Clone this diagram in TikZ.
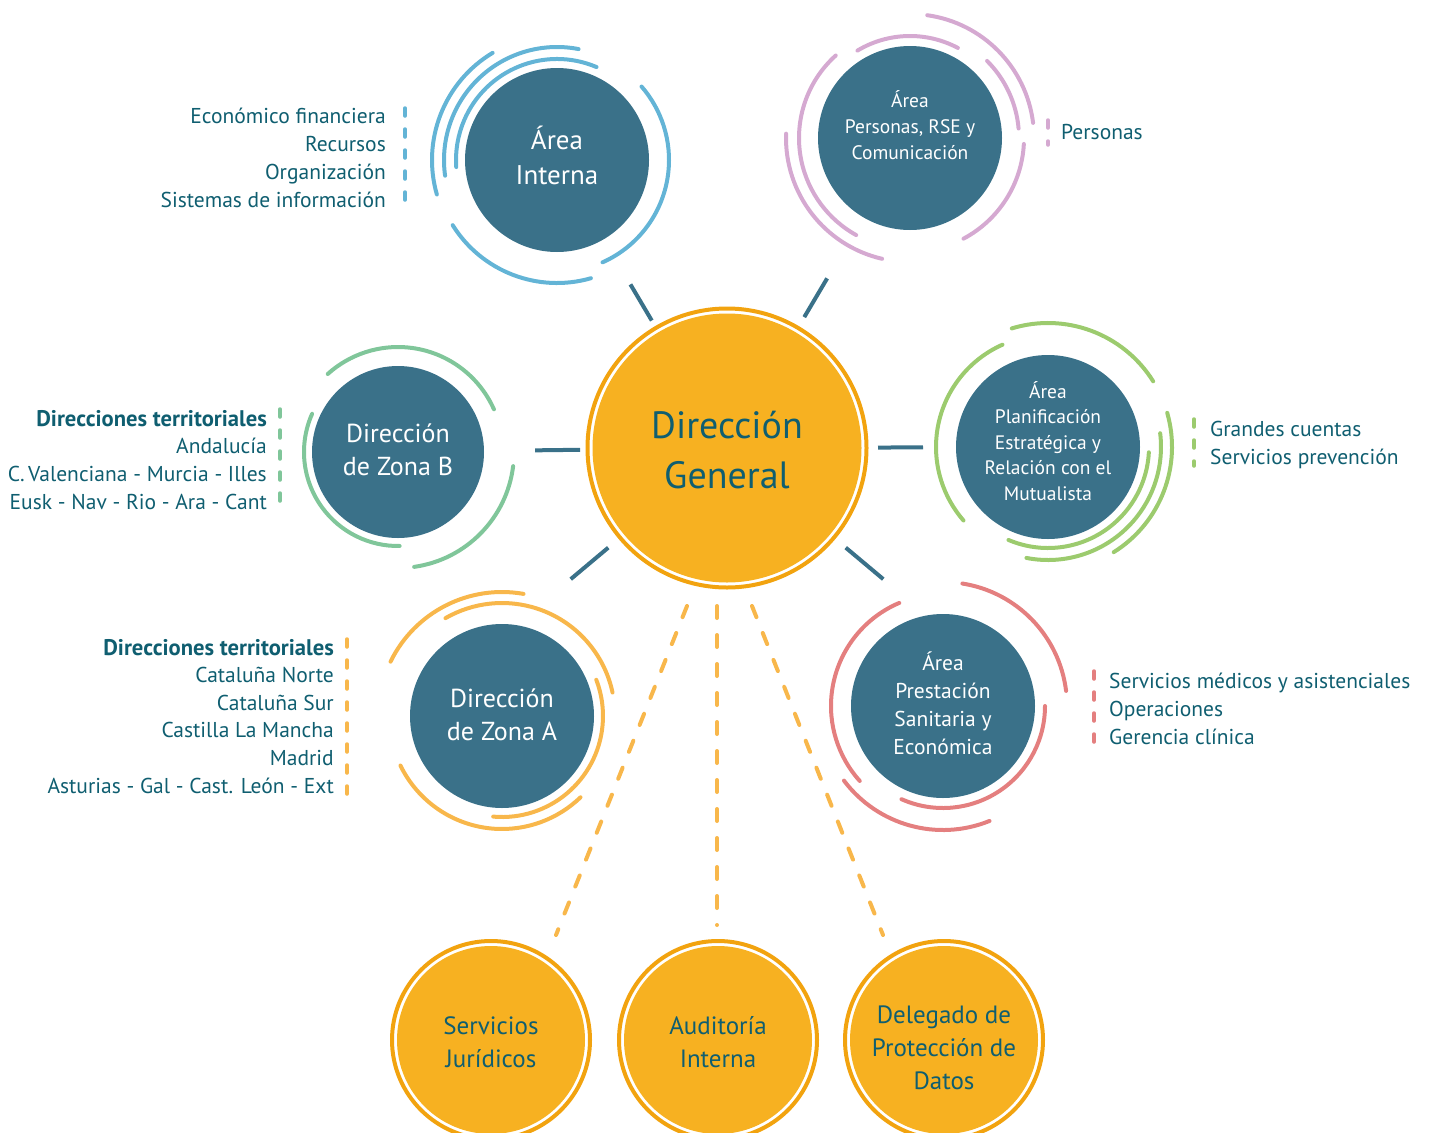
\documentclass[tikz,border=0pt]{standalone}
\usepackage{fontspec}
\setmainfont{PT Sans}
\usetikzlibrary{calc}
\definecolor{circC}{HTML}{3A7189}
\definecolor{txtC}{HTML}{0F5E70}
\definecolor{dgFill}{HTML}{F7B121}
\definecolor{dgRing}{HTML}{F2A30F}
\definecolor{blueA}{HTML}{63B4D6}
\definecolor{pinkA}{HTML}{D5A9D1}
\definecolor{lgreenA}{HTML}{9CCB6E}
\definecolor{mgreenA}{HTML}{80C69A}
\definecolor{orangeA}{HTML}{F8B74B}
\definecolor{redA}{HTML}{E47F7F}
\newcommand\rarc[5]{\draw[arcline,#1] ($(#2)+(#4:#3pt)$) arc[start angle=#4,end angle=#5,radius=#3pt];}
\begin{document}
\begin{tikzpicture}[x=1pt,y=1pt,
  circ/.style={circle,fill=circC,inner sep=0pt,minimum size=#1},
  ycirc/.style={circle,fill=dgFill,inner sep=0pt,minimum size=#1},
  wtxt/.style={text=white,align=center,inner sep=0pt},
  ytxt/.style={text=txtC,align=center,inner sep=0pt},
  side/.style={text=txtC,inner sep=0pt,font=\fontsize{21.5}{28}\selectfont},
  sidebold/.style={text=txtC,inner sep=0pt,font=\fontsize{22.6}{28}\selectfont\bfseries},
  conn/.style={draw=circC,line width=4pt},
  dline/.style={draw=orangeA,line width=4pt,line cap=round,dash pattern=on 12pt off 17pt},
  bar/.style={line width=3.5pt,line cap=round,dash pattern=on 8pt off 13pt},
  arcline/.style={line width=4pt,line cap=round},
  ring/.style={draw=dgRing,line width=4pt}]
\useasboundingbox (0,0) rectangle (1433,-1133);

% ---------- central node ----------
\node[ycirc=269pt] (dg) at (727,-448) {};
\draw[ring] (dg.center) circle[radius=139.5pt];
\node[ytxt,font=\fontsize{38}{50}\selectfont] (dgt) at (727,-450) {Dirección\\General};

% ---------- teal circles ----------
\node[circ=184pt] (ai) at (557,-160) {};
\node[wtxt,font=\fontsize{27}{35}\selectfont] (ait) at (557,-155) {Área\\Interna};

\node[circ=184pt] (ap) at (910,-138) {};
\node[wtxt,font=\fontsize{19.5}{26}\selectfont] (apt) at (910,-125) {Área\\Personas, RSE y\\Comunicación};

\node[circ=184pt] (apl) at (1048,-447) {};
\node[wtxt,font=\fontsize{19.5}{25.5}\selectfont] (aplt) at (1048,-441) {Área\\Planificación\\Estratégica y\\Relación con el\\Mutualista};

\node[circ=172pt] (zb) at (398,-452) {};
\node[wtxt,font=\fontsize{26}{33}\selectfont] (zbt) at (398,-450) {Dirección\\de Zona B};

\node[circ=184pt] (za) at (502,-716) {};
\node[wtxt,font=\fontsize{26}{33}\selectfont] (zat) at (502,-715) {Dirección\\de Zona A};

\node[circ=184pt] (pr) at (943,-706) {};
\node[wtxt,font=\fontsize{21.5}{28}\selectfont] (prt) at (943,-703) {Área\\Prestación\\Sanitaria y\\Económica};

% ---------- bottom yellow circles ----------
\foreach \n/\x in {sj/491,au/718,dp/944}{
  \node[ycirc=188pt] (\n) at (\x,-1040) {};
  \draw[ring] (\n.center) circle[radius=99pt];
}
\node[ytxt,font=\fontsize{25}{33}\selectfont] (sjt) at (491,-1042) {Servicios\\Jurídicos};
\node[ytxt,font=\fontsize{25}{33}\selectfont] (aut) at (718,-1042) {Auditoría\\Interna};
\node[ytxt,font=\fontsize{25}{33}\selectfont] (dpt) at (944,-1048) {Delegado de\\Protección de\\Datos};

% ---------- arcs ----------
\rarc{blueA}{ai}{125}{121}{196}
\rarc{blueA}{ai}{113}{79}{188}
\rarc{blueA}{ai}{101}{67}{184}
\rarc{blueA}{ai}{112}{-66}{41}
\rarc{blueA}{ai}{123}{212}{286}

\rarc{pinkA}{ap}{124}{7}{82}
\rarc{pinkA}{ap}{102}{62}{121}
\rarc{pinkA}{ap}{109}{5}{45}
\rarc{pinkA}{ap}{111}{132}{241}
\rarc{pinkA}{ap}{124}{178}{257}
\rarc{pinkA}{ap}{114}{-62}{-3}

\rarc{lgreenA}{apl}{124}{32}{107}
\rarc{lgreenA}{apl}{112}{114}{221}
\rarc{lgreenA}{apl}{124}{-58}{16}
\rarc{lgreenA}{apl}{113}{-101}{7}
\rarc{lgreenA}{apl}{101}{-113}{-3}

\rarc{mgreenA}{zb}{105}{24}{132}
\rarc{mgreenA}{zb}{94}{156}{271}
\rarc{mgreenA}{zb}{116}{-82}{-7}

\rarc{orangeA}{za}{124}{80}{154}
\rarc{orangeA}{za}{113}{12}{120}
\rarc{orangeA}{za}{101}{-95}{21}
\rarc{orangeA}{za}{113}{206}{314}

\rarc{redA}{pr}{124}{7}{81}
\rarc{redA}{pr}{112}{113}{222}
\rarc{redA}{pr}{102}{-114}{0}
\rarc{redA}{pr}{124}{217}{292}

% ---------- connectors ----------
\draw[conn] ($(dg.center)!148pt!(ai.center)$) -- ($(dg.center)!190pt!(ai.center)$);
\draw[conn] ($(dg.center)!152pt!(ap.center)$) -- ($(dg.center)!197pt!(ap.center)$);
\draw[conn] ($(dg.center)!147pt!(zb.center)$) -- ($(dg.center)!192pt!(zb.center)$);
\draw[conn] ($(dg.center)!151pt!(apl.center)$) -- ($(dg.center)!196pt!(apl.center)$);
\draw[conn] ($(dg.center)+(-140:155pt)$) -- ($(dg.center)+(-140:204pt)$);
\draw[conn] ($(dg.center)+(-40:155pt)$) -- ($(dg.center)+(-40:204pt)$);

\draw[dline] ($(dg.center)+(-40,-158)$) -- ($(sj.center)+(65,105)$);
\draw[dline] ($(dg.center)+(-10,-158)$) -- ($(au.center)+(-1,115)$);
\draw[dline] ($(dg.center)+(25,-158)$) -- ($(dp.center)+(-61,105)$);

% ---------- side lists ----------
\foreach \t [count=\i] in {Económico financiera,Recursos,Organización,Sistemas de información}
  \node[side,anchor=base east] (lai\i) at (386,{-123-28*(\i-1)}) {\t};
\draw[bar,blueA] (405,-108) -- (405,-207);

\node[side,anchor=base west] (lap1) at (1061,-139) {Personas};
\draw[bar,pinkA] (1048,-120) -- (1048,-145);

\node[sidebold,anchor=base east] (lzb1) at (267,-426) {Direcciones territoriales};
\foreach \t [count=\i from 2] in {Andalucía,C.\,Valenciana - Murcia - Illes,Eusk - Nav - Rio - Ara - Cant}
  \node[side,anchor=base east] (lzb\i) at (267,{-426-27.7*(\i-1)}) {\t};
\draw[bar,mgreenA] (280,-409) -- (280,-508);

\node[sidebold,anchor=base east] (lza1) at (334,-655) {Direcciones territoriales};
\foreach \t [count=\i from 2] in {Cataluña Norte,Cataluña Sur,Castilla La Mancha,Madrid,Asturias - Gal - Cast. León - Ext}
  \node[side,anchor=base east] (lza\i) at (334,{-655-27.6*(\i-1)}) {\t};
\draw[bar,orangeA] (347,-639) -- (347,-798);

\foreach \t [count=\i] in {Grandes cuentas,Servicios prevención}
  \node[side,anchor=base west] (lapl\i) at (1210,{-436-28*(\i-1)}) {\t};
\draw[bar,lgreenA] (1194,-419) -- (1194,-466);

\foreach \t [count=\i] in {Servicios médicos y asistenciales,Operaciones,Gerencia clínica}
  \node[side,anchor=base west] (lpr\i) at (1109,{-688-28*(\i-1)}) {\t};
\draw[bar,redA] (1094,-671) -- (1094,-748);
\end{tikzpicture}
\end{document}
